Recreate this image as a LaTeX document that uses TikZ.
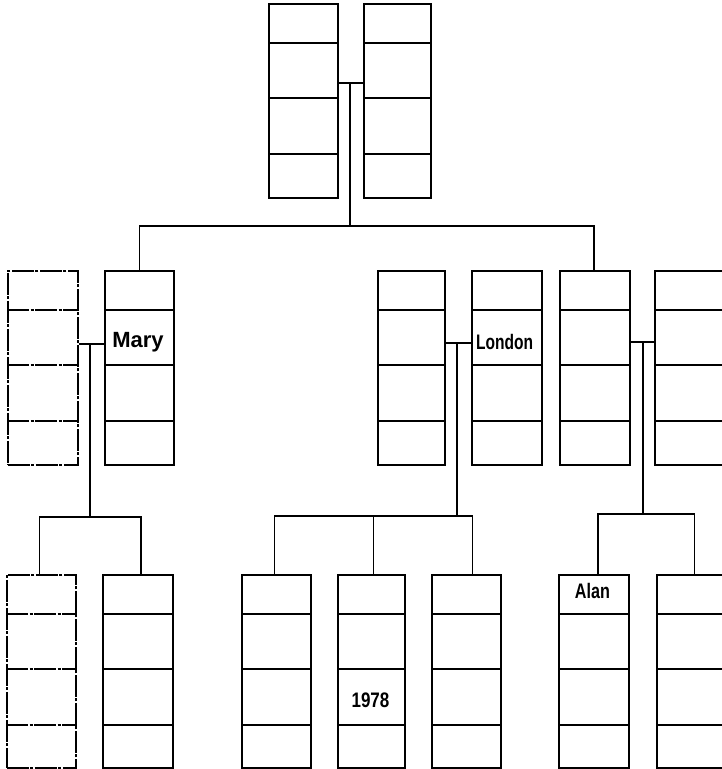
\documentclass[tikz,border=0pt]{standalone}
\usepackage{fontspec}
\setmainfont{Liberation Sans}
\begin{document}
\begin{tikzpicture}[x=1pt,y=-1pt,
  rec/.style={draw,rectangle,anchor=north west,minimum width=69pt,minimum height=194pt,inner sep=0pt,line width=1.7pt},
  dashpat/.style={dash pattern=on 22pt off 1.5pt on 3pt off 1.5pt},
  dashrec/.style={rec,dashpat},
  conn/.style={line width=1.7pt},
  lbl/.style={inner sep=0pt,anchor=base,font=\fontsize{21}{21}\selectfont\bfseries}]
\useasboundingbox (0,0) rectangle (721,769);
\newcommand{\dividers}[2][]{%
  \foreach \d in {40,95,151}{\draw[line width=1.7pt,#1] ([yshift=-\d pt]#2.north west) -- ([yshift=-\d pt]#2.north east);}}
% top row
\node[rec] (T1) at (268,3) {};
\node[rec,minimum width=67pt] (T2) at (363,3) {};
\dividers{T1}\dividers{T2}
% middle row
\node[dashrec,minimum width=70pt] (M1) at (7,270) {};
\node[rec] (M2) at (104,270) {};
\node[rec,minimum width=67pt] (M3) at (377,270) {};
\node[rec,minimum width=70pt] (M4) at (471,270) {};
\node[rec,minimum width=70pt] (M5) at (559,270) {};
\node[rec] (M6) at (654,270) {};
\dividers[dashpat]{M1}
\dividers{M2}\dividers{M3}\dividers{M4}\dividers{M5}\dividers{M6}
% bottom row
\node[dashrec,minimum height=193pt] (B1) at (6,574) {};
\node[rec,minimum width=70pt,minimum height=193pt] (B2) at (102,574) {};
\node[rec,minimum height=193pt] (B3) at (241,574) {};
\node[rec,minimum width=67pt,minimum height=193pt] (B4) at (337,574) {};
\node[rec,minimum height=193pt] (B5) at (431,574) {};
\node[rec,minimum width=70pt,minimum height=193pt] (B6) at (558,574) {};
\node[rec,minimum height=193pt] (B7) at (656,574) {};
\dividers[dashpat]{B1}
\dividers{B2}\dividers{B3}\dividers{B4}\dividers{B5}\dividers{B6}\dividers{B7}
% junctions
\coordinate (P0) at (350,83);
\coordinate (J0) at (350,226);
\coordinate (P1) at (90,344);
\coordinate (J1) at (90,517);
\coordinate (P2) at (457,343);
\coordinate (J2) at (457,516);
\coordinate (P3) at (643,342);
\coordinate (J3) at (643,514);
% connectors
\draw[conn] (T1.east |- P0) -- (T2.west |- P0);
\draw[conn] (P0) -- (J0);
\draw[conn] (M2.north) -- (J0 -| M2.north) -- ([xshift=-1pt]J0 -| M5.north) -- ([xshift=-1pt]M5.north);
\draw[conn] (M1.east |- P1) -- (M2.west |- P1);
\draw[conn] (P1) -- (J1);
\draw[conn] ([xshift=-2pt]B1.north) -- ([xshift=-2pt]J1 -| B1.north) -- ([xshift=3pt]J1 -| B2.north) -- ([xshift=3pt]B2.north);
\draw[conn] (M3.east |- P2) -- (M4.west |- P2);
\draw[conn] (P2) -- (J2);
\draw[conn] ([xshift=-2pt]B3.north) -- ([xshift=-2pt]J2 -| B3.north) -- ([xshift=6pt]J2 -| B5.north) -- ([xshift=6pt]B5.north);
\draw[conn] ([xshift=2pt]J2 -| B4.north) -- ([xshift=2pt]B4.north);
\draw[conn] (M5.east |- P3) -- (M6.west |- P3);
\draw[conn] (P3) -- (J3);
\draw[conn] ([xshift=4pt]B6.north) -- ([xshift=4pt]J3 -| B6.north) -- ([xshift=3pt]J3 -| B7.north) -- ([xshift=3pt]B7.north);
% labels
\node[lbl,font=\fontsize{22}{22}\selectfont\bfseries] (mary) at (138,347) {Mary};
\node[lbl,xscale=0.74] (london) at (504.5,349) {London};
\node[lbl,xscale=0.81] (y1978) at (370.5,707) {1978};
\node[lbl,xscale=0.77] (alan) at (592.5,598) {Alan};
\end{tikzpicture}
\end{document}
